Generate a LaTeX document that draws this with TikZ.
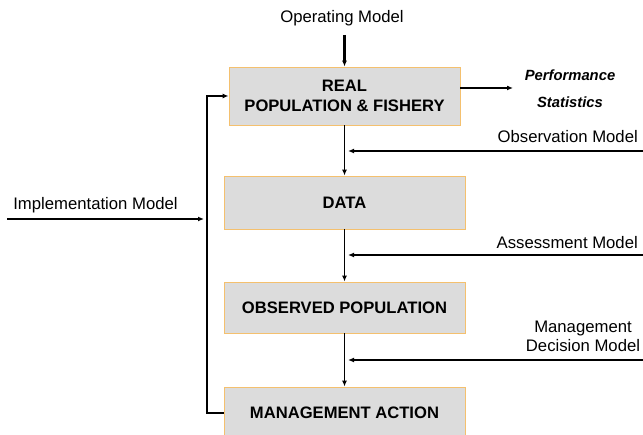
\documentclass[tikz,border=0pt]{standalone}
\usepackage{fontspec}
\setmainfont{Liberation Sans}
\usetikzlibrary{arrows.meta}
\definecolor{boxfill}{RGB}{220,220,220}
\definecolor{boxedge}{RGB}{244,192,110}
\tikzset{
  stagebox/.style={draw=boxedge, fill=boxfill, line width=0.9pt, font=\fontsize{16.6}{20}\selectfont\bfseries, align=center, inner sep=0pt},
  modellabel/.style={font=\fontsize{16.7}{19}\selectfont, inner sep=0pt},
  flow/.style={line width=1.6pt, -{Latex[length=6pt,width=5pt]}},
  feed/.style={line width=1.8pt, -{Latex[length=6pt,width=5pt]}}
}
\begin{document}
\begin{tikzpicture}[x=1pt,y=-1pt]
\useasboundingbox (0,0) rectangle (643,435);
% stages
\node[stagebox, minimum width=231pt, minimum height=58pt] (real) at (344.5,96) {REAL\\POPULATION \& FISHERY};
\node[stagebox, minimum width=241pt, minimum height=53pt] (data) at (344.5,202.5) {DATA};
\node[stagebox, minimum width=241pt, minimum height=51pt] (obs) at (344.5,307.5) {OBSERVED POPULATION};
\node[stagebox, minimum width=241pt, minimum height=52pt] (act) at (344.5,413) {MANAGEMENT ACTION};
% model labels
\node[modellabel] (opm) at (342,18) {Operating Model};
\coordinate (optop) at (344.5,35);
\node[modellabel, anchor=east] (obsm) at (638,137) {Observation Model};
\node[modellabel, anchor=east] (asm) at (638,243) {Assessment Model};
\node[modellabel, align=center] (mdm) at (583,336) {Management\\Decision Model};
\node[modellabel] (imp) at (95.5,205) {Implementation Model};
\node[font=\fontsize{14.8}{27}\selectfont\bfseries\itshape, align=center, inner sep=0pt] (perf) at (570,88.5) {Performance\\Statistics};
% free ends
\coordinate (obsin) at (643,151);
\coordinate (asin) at (643,255);
\coordinate (mdin) at (643,360);
\coordinate (impin) at (7,219);
\coordinate (loop) at (207,219);
% main chain
\draw[feed, line width=2.2pt] (optop) -- (real.north);
\draw[flow] (real.south) -- (data.north);
\draw[flow] (data.south) -- (obs.north);
\draw[flow] (obs.south) -- (act.north);
% model inputs
\draw[feed] (obsin) -- (348,151);
\draw[feed] (asin) -- (348,255);
\draw[feed] (mdin) -- (348,360);
\draw[flow] (real.east |- 0,88) -- (513,88);
% feedback loop
\draw[flow] (act.west) -| (loop) |- (real.west |- 0,96);
\draw[flow] (impin) -- (204,219);
\end{tikzpicture}
\end{document}
